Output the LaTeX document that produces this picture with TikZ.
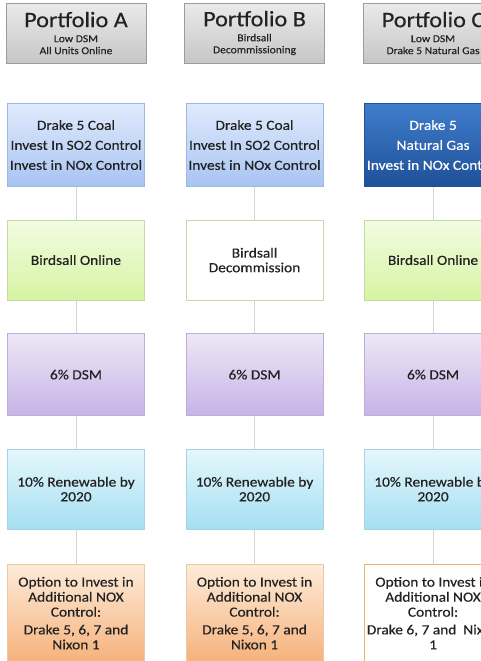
\documentclass[tikz,border=0pt]{standalone}
\usepackage{fontspec}
\setmainfont{Carlito}[FakeStretch=1.1, FakeBold=0.4]
\usetikzlibrary{positioning}
\definecolor{txtgray}{HTML}{222222}
\definecolor{hdrtop}{HTML}{EAEAEA}
\definecolor{hdrbot}{HTML}{C6C6C6}
\definecolor{hdrline}{HTML}{9C9C9C}
\definecolor{bluetop}{HTML}{E0EAFC}
\definecolor{bluebot}{HTML}{A8C4F2}
\definecolor{blueline}{HTML}{9FB8E2}
\definecolor{navytop}{HTML}{3F7DCB}
\definecolor{navybot}{HTML}{1F5098}
\definecolor{greentop}{HTML}{F3FBE2}
\definecolor{greenbot}{HTML}{D5F4A2}
\definecolor{greenline}{HTML}{C5DAA4}
\definecolor{lilactop}{HTML}{EEE7F7}
\definecolor{lilacbot}{HTML}{C6B4E6}
\definecolor{lilacline}{HTML}{BBAED8}
\definecolor{cyantop}{HTML}{E6F7FC}
\definecolor{cyanbot}{HTML}{A4DFF2}
\definecolor{cyanline}{HTML}{A6D2E4}
\definecolor{orangetop}{HTML}{FDEBD9}
\definecolor{orangebot}{HTML}{F6B27C}
\definecolor{orangeline}{HTML}{E9C9A6}
\definecolor{linkgray}{HTML}{D2D6D2}

\begin{document}
\begin{tikzpicture}[x=1pt, y=1pt]
	\tikzstyle{portbox} = [rectangle, draw=hdrline, top color=hdrtop, bottom color=hdrbot, minimum width=105pt, minimum height=45pt, align=center, inner sep=1pt, text=txtgray, font=\fontsize{7.9}{9}\selectfont]
	\tikzstyle{stepcell} = [rectangle, draw, minimum width=102.75pt, align=center, inner sep=1pt, text=txtgray, font=\fontsize{10.5}{11}\selectfont]
	\tikzstyle{coalcell} = [stepcell, draw=blueline, top color=bluetop, bottom color=bluebot, minimum height=62.25pt, font=\fontsize{10.5}{15}\selectfont]
	\tikzstyle{gascell} = [coalcell, draw=navybot, top color=navytop, bottom color=navybot, text=white]
	\tikzstyle{onlinecell} = [stepcell, draw=greenline, top color=greentop, bottom color=greenbot, minimum height=60pt]
	\tikzstyle{offcell} = [stepcell, draw=greenline, fill=white, minimum height=60pt]
	\tikzstyle{dsmcell} = [stepcell, draw=lilacline, top color=lilactop, bottom color=lilacbot, minimum height=61.5pt]
	\tikzstyle{renewcell} = [stepcell, draw=cyanline, top color=cyantop, bottom color=cyanbot, minimum height=60pt]
	\tikzstyle{noxcell} = [stepcell, draw=orangeline, top color=orangetop, bottom color=orangebot, minimum height=72.75pt, font=\fontsize{10.5}{11.25}\selectfont]
	\tikzstyle{noxwhite} = [noxcell, draw=orangeline!70!orange, top color=white, bottom color=white]
	\tikzstyle{link} = [draw=linkgray, line width=0.75pt]

	\useasboundingbox (0,0) rectangle (360.75,-495.75);
	\clip (0,0) rectangle (360.75,-495.75);
	\fill[white] (0,0) rectangle (360.75,-495.75);

	% portfolio headers
	\node[portbox] (PA) at (57,-24.75) {{\fontsize{16.5}{18}\selectfont Portfolio A}\\[2.25pt]Low DSM\\All Units Online};
	\node[portbox, right=28.5pt of PA] (PB) {{\fontsize{16.5}{18}\selectfont Portfolio B}\\[2.25pt]Birdsall\\Decommissioning};
	\node[portbox, right=28.5pt of PB] (PC) {{\fontsize{16.5}{18}\selectfont Portfolio C}\\[2.25pt]Low DSM\\Drake 5 Natural Gas};

	% drake 5
	\node[coalcell, below=30pt of PA] (DA) {Drake 5 Coal\\Invest In SO2 Control\\Invest in NOx Control};
	\node[coalcell, below=30pt of PB] (DB) {Drake 5 Coal\\Invest In SO2 Control\\Invest in NOx Control};
	\node[gascell, below=30pt of PC] (DC) {Drake 5\\Natural Gas\\Invest in NOx Control};

	% birdsall
	\node[onlinecell, below=24.75pt of DA] (BA) {Birdsall Online};
	\node[offcell, below=24.75pt of DB] (BB) {Birdsall\\Decommission};
	\node[onlinecell, below=24.75pt of DC] (BC) {Birdsall Online};

	% dsm
	\node[dsmcell, below=24.75pt of BA] (SA) {6\% DSM};
	\node[dsmcell, below=24.75pt of BB] (SB) {6\% DSM};
	\node[dsmcell, below=24.75pt of BC] (SC) {6\% DSM};

	% renewables
	\node[renewcell, below=24.75pt of SA] (RA) {10\% Renewable by\\2020};
	\node[renewcell, below=24.75pt of SB] (RB) {10\% Renewable by\\2020};
	\node[renewcell, below=24.75pt of SC] (RC) {10\% Renewable by\\2020};

	% nox option
	\node[noxcell, below=26.25pt of RA] (OA) {Option to Invest in\\Additional NOX\\Control:\\[2pt]Drake 5, 6, 7 and\\Nixon 1};
	\node[noxcell, below=26.25pt of RB] (OB) {Option to Invest in\\Additional NOX\\Control:\\[2pt]Drake 5, 6, 7 and\\Nixon 1};
	\node[noxwhite, below=26.25pt of RC] (OC) {Option to Invest in\\Additional NOX\\Control:\\[2pt]Drake 6, 7 and\ \ Nixon\\1};

	\draw[link] (DA) -- (BA);
	\draw[link] (BA) -- (SA);
	\draw[link] (SA) -- (RA);
	\draw[link] (RA) -- (OA);

	\draw[link] (DB) -- (BB);
	\draw[link] (BB) -- (SB);
	\draw[link] (SB) -- (RB);
	\draw[link] (RB) -- (OB);

	\draw[link] (DC) -- (BC);
	\draw[link] (BC) -- (SC);
	\draw[link] (SC) -- (RC);
	\draw[link] (RC) -- (OC);
\end{tikzpicture}
\end{document}
